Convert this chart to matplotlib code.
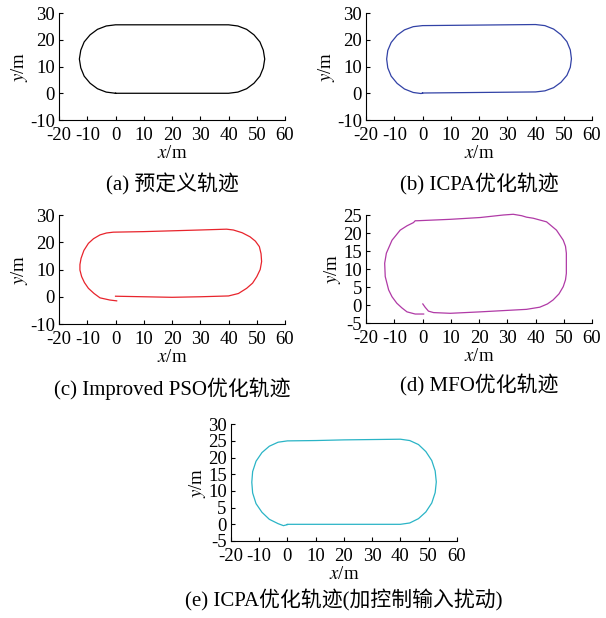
import matplotlib
matplotlib.use("Agg")
import matplotlib.pyplot as plt

plt.rcParams['font.family'] = ['Liberation Serif', 'Noto Sans CJK SC']
plt.rcParams['mathtext.fontset'] = 'stix'
plt.rcParams['axes.unicode_minus'] = False
plt.rcParams['font.size'] = 13.5

# (a) predefined trajectory
a_x = [0, 10, 20, 30, 40, 43.3, 46.4, 49.0, 51.1, 52.3, 52.8, 52.3, 51.1, 49.0, 46.4, 43.3, 40,
       30, 20, 10, 0, -3.3, -6.4, -9.0, -11.1, -12.3, -12.8, -12.3, -11.1, -9.0, -6.4, -3.3, 0]
a_y = [0, 0, 0, 0, 0, 0.44, 1.7, 3.75, 6.4, 9.5, 12.8, 16.1, 19.2, 21.85, 23.9, 25.16, 25.6,
       25.6, 25.6, 25.6, 25.6, 25.16, 23.9, 21.85, 19.2, 16.1, 12.8, 9.5, 6.4, 3.75, 1.7, 0.44, 0]

# (b) ICPA
b_x = [0, 10, 20, 30, 40, 43.3, 46.4, 49.0, 51.1, 52.3, 52.7, 52.3, 51.1, 49.0, 46.4, 43.3, 40,
       30, 20, 10, 0, -3.3, -6.4, -9.0, -11.1, -12.3, -12.7, -12.3, -11.1, -9.0, -6.4, -3.3, -0.5, 0]
b_y = [0.1, 0.2, 0.3, 0.4, 0.5, 0.9, 2.1, 4.1, 6.7, 9.7, 12.9, 16.2, 19.3, 21.9, 24.0, 25.3, 25.7,
       25.6, 25.5, 25.4, 25.3, 24.9, 23.7, 21.7, 19.0, 16.0, 12.8, 9.5, 6.4, 3.7, 1.6, 0.3, -0.1, 0.1]

# (c) Improved PSO
c_x = [0, 10, 20, 30, 40, 43.5, 46.4, 48.5, 50.0, 51.2, 51.7, 51.5, 50.9, 49.5, 47.6, 44.8, 41.7,
       39.3, 29.9, 20, 9.9, -0.8, -3.2, -5.5, -7.8, -9.6, -11.2, -12.2, -12.6, -12.6, -12.0, -11.0,
       -9.6, -7.6, -5.5, -2.0, 0.4]
c_y = [0.2, 0.0, -0.2, 0.0, 0.3, 1.2, 3.1, 5.0, 7.4, 10.0, 12.9, 15.8, 18.4, 20.4, 22.0, 23.5, 24.5,
       24.8, 24.5, 24.2, 23.9, 23.7, 23.4, 22.7, 21.3, 19.6, 17.0, 14.1, 11.8, 9.8, 7.4, 5.2,
       3.1, 1.2, -0.4, -1.2, -1.5]

# (d) MFO
d_x = [0.1, 0.9, 2.1, 3.9, 9.8, 20.4, 27.4, 36.8, 41.5, 44.2, 46.2, 48.3, 49.8, 50.6, 50.9, 50.9,
       50.6, 49.8, 47.4, 43.9, 39.2, 36.8, 35.1, 32.1, 28.6, 20.4, 9.8, -2.0, -2.6, -3.2, -5.5,
       -7.9, -10.8, -12.8, -13.4, -13.2, -12.0, -10.8, -9.1, -7.3, -5.5, -2.6, 0.4]
d_y = [0.3, -0.6, -1.7, -2.1, -2.3, -1.9, -1.6, -1.2, -0.6, 0.3, 1.4, 3.1, 5.1, 7.0, 8.8, 14.4,
       16.3, 18.0, 20.8, 23.1, 24.1, 24.4, 24.8, 25.2, 25.0, 24.3, 23.8, 23.4, 23.4, 22.9, 22.0,
       20.8, 18.0, 14.4, 11.6, 7.9, 4.2, 2.3, 0.5, -0.8, -1.9, -2.5, -2.5]

# (e) ICPA with control input disturbance
e_x = [0, 10, 20, 30, 40, 43.3, 46.4, 49.0, 51.1, 52.3, 52.7, 52.3, 51.1, 49.0, 46.4, 43.3, 40,
       30, 20, 10, 0, -3.3, -6.4, -9.0, -11.1, -12.3, -12.6, -12.3, -11.1, -9.0, -6.4, -3.3, -1.4, 0]
e_y = [0.0, 0.0, 0.0, 0.0, 0.0, 0.4, 1.7, 3.7, 6.4, 9.5, 12.7, 16.0, 19.1, 21.8, 23.9, 25.1, 25.5,
       25.4, 25.3, 25.1, 25.0, 24.6, 23.4, 21.5, 18.9, 15.8, 12.6, 9.4, 6.2, 3.6, 1.5, 0.2, -0.4, -0.1]

x_ticks = [-20, -10, 0, 10, 20, 30, 40, 50, 60]

panels = [
    # x, y, colour, yticks, rect, caption, caption offset
    (a_x, a_y, 'black', [-10, 0, 10, 20, 30], [0.0974, 0.8058, 0.373, 0.1731], '(a) 预定义轨迹', 0.104),
    (b_x, b_y, '#3242a6', [-10, 0, 10, 20, 30], [0.604, 0.8058, 0.373, 0.1731], '(b) ICPA优化轨迹', 0.104),
    (c_x, c_y, '#e8242c', [-10, 0, 10, 20, 30], [0.0974, 0.4757, 0.373, 0.1764],
     '(c) Improved PSO优化轨迹', 0.104),
    (d_x, d_y, '#b03aa6', [-5, 0, 5, 10, 15, 20, 25], [0.604, 0.4773, 0.373, 0.1748], '(d) MFO优化轨迹', 0.101),
    (e_x, e_y, '#2ab4c6', [-5, 0, 5, 10, 15, 20, 25, 30], [0.381, 0.1246, 0.373, 0.189],
     '(e) ICPA优化轨迹(加控制输入扰动)', 0.097),
]

fig = plt.figure(figsize=(6.06, 6.18), dpi=100)

for px, py, col, yt, rect, cap, off in panels:
    ax = fig.add_axes(rect)
    ax.plot(px, py, color=col, lw=0.9, clip_on=False)
    ax.set_xlim(-20, 60)
    ax.set_ylim(yt[0], yt[-1])
    ax.set_xticks(x_ticks)
    ax.set_yticks(yt)
    ax.spines['top'].set_visible(False)
    ax.spines['right'].set_visible(False)
    ax.tick_params(direction='in', length=3, width=0.8, labelsize=13.5)
    ax.tick_params(axis='x', pad=5)
    ax.tick_params(axis='y', pad=3)
    ax.set_xlabel(r'$x$/m', fontsize=13.5, labelpad=1)
    ax.set_ylabel(r'$y$/m', fontsize=13.5, labelpad=0)
    cx = rect[0] + rect[2] / 2
    fig.text(cx, rect[1] - off, cap, ha='center', va='center', fontsize=15)

fig.savefig('out.png', dpi=100)
